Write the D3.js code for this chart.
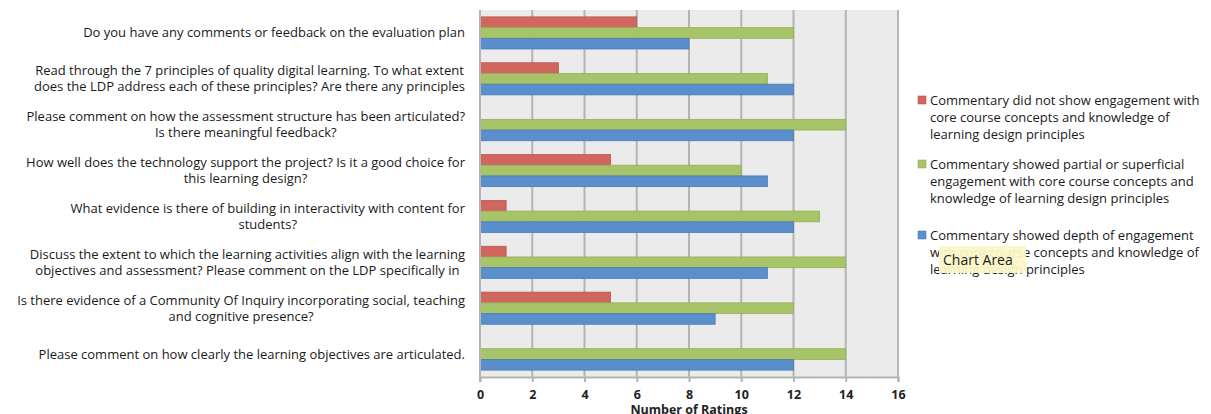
<!DOCTYPE html>
<html>
<head>
<meta charset="utf-8">
<script src="https://cdn.jsdelivr.net/npm/d3@7"></script>
<style>
  body { margin: 0; background: #fff; }
  text { font-family: "Open Sans", sans-serif; }
</style>
</head>
<body>
<div id="chart"></div>
<script>
var width = 1211;
var height = 414;

// questions, top to bottom, each one as the wrapped lines shown
var questions = [
  ["Do you have any comments or feedback on the evaluation plan"],
  ["Read through the 7 principles of quality digital learning. To what extent", "does the LDP address each of these principles? Are there any principles"],
  ["Please comment on how the assessment structure has been articulated?", "Is there meaningful feedback?"],
  ["How well does the technology support the project? Is it a good choice for", "this learning design?"],
  ["What evidence is there of building in interactivity with content for", "students?"],
  ["Discuss the extent to which the learning activities align with the learning", "objectives and assessment? Please comment on the LDP specifically in"],
  ["Is there evidence of a Community Of Inquiry incorporating social, teaching", "and cognitive presence?"],
  ["Please comment on how clearly the learning objectives are articulated."]
];

var noEngagement      = [6, 3, 0, 5, 1, 1, 5, 0];
var partialEngagement = [12, 11, 14, 10, 13, 14, 12, 14];
var depthEngagement   = [8, 12, 12, 11, 12, 11, 9, 12];

var seriesNames = [
  ["Commentary did not show engagement with", "core course concepts and knowledge of", "learning design principles"],
  ["Commentary showed partial or superficial", "engagement with core course concepts and", "knowledge of learning design principles"],
  ["Commentary showed depth of engagement", "with core course concepts and knowledge of", "learning design principles"]
];
var xTicks = [0, 2, 4, 6, 8, 10, 12, 14, 16];

var colors = ['#d0665e', '#a7c468', '#5b8fcb'];
var strokes = ['#b85850', '#95b058', '#4a7bb5'];
var series = [noEngagement, partialEngagement, depthEngagement];

var plotLeft = 480, plotRight = 898, plotTop = 10, plotBottom = 377;

var svg = d3.select('#chart').append('svg')
    .attr('width', width)
    .attr('height', height);

var x = d3.scaleLinear().domain([0, 16]).range([plotLeft, plotRight]);

var y = d3.scaleBand()
    .domain(d3.range(questions.length))
    .range([plotTop, plotBottom])
    .paddingInner(0.3)
    .paddingOuter(0.15);

var yInner = d3.scaleBand().domain([0, 1, 2]).range([0, y.bandwidth()]);

// plot background
svg.append('rect')
    .attr('x', plotLeft).attr('y', plotTop)
    .attr('width', plotRight - plotLeft).attr('height', plotBottom - plotTop)
    .attr('fill', '#ebebeb');

// gridlines
svg.selectAll('.grid')
    .data(xTicks)
    .enter()
    .append('line')
    .attr('x1', function(d){ return x(d); })
    .attr('x2', function(d){ return x(d); })
    .attr('y1', plotTop).attr('y2', plotBottom)
    .attr('stroke', '#b4b4b4')
    .attr('stroke-width', 2);

// bars
var groups = svg.selectAll('.group')
    .data(questions)
    .enter()
    .append('g')
    .attr('transform', function(d, i){ return 'translate(0,' + y(i) + ')'; });

groups.selectAll('rect')
    .data(function(d, i){ return series.map(function(s, k){ return {k: k, v: s[i]}; }); })
    .enter()
    .append('rect')
    .attr('x', x(0))
    .attr('y', function(d){ return yInner(d.k); })
    .attr('width', function(d){ return x(d.v) - x(0); })
    .attr('height', yInner.bandwidth())
    .attr('fill', function(d){ return colors[d.k]; })
    .attr('stroke', function(d){ return d.v > 0 ? strokes[d.k] : 'none'; })
    .attr('stroke-width', 0.8);

// x axis
var xAxis = d3.axisBottom(x).tickValues(xTicks).tickSize(5).tickPadding(8);
var ax = svg.append('g')
    .attr('transform', 'translate(0,' + plotBottom + ')')
    .call(xAxis);
ax.select('.domain').attr('stroke', '#b4b4b4').attr('stroke-width', 2);
ax.selectAll('.tick line').attr('stroke', '#b4b4b4').attr('stroke-width', 2);
ax.selectAll('.tick text')
    .attr('font-family', 'Open Sans, sans-serif')
    .attr('font-size', 12.5)
    .attr('font-weight', 'bold')
    .attr('fill', '#222');

// y axis line
svg.append('line')
    .attr('x1', plotLeft).attr('x2', plotLeft)
    .attr('y1', plotTop).attr('y2', plotBottom + 5)
    .attr('stroke', '#b4b4b4').attr('stroke-width', 2);

svg.append('text')
    .attr('x', 689).attr('y', 414)
    .attr('text-anchor', 'middle')
    .attr('font-size', 12.5)
    .attr('font-weight', 'bold')
    .attr('fill', '#222')
    .text('Number of Ratings');

// category labels: block right-aligned, lines centred inside it
var labelRight = 465, lineH = 16;
questions.forEach(function(lines, i){
    var cy = y(i) + y.bandwidth() / 2;
    var g = svg.append('g');
    var texts = lines.map(function(t, j){
        return g.append('text')
            .attr('y', cy + (j - (lines.length - 1) / 2) * lineH + 4.5)
            .attr('font-size', 13)
            .attr('fill', '#1a1a1a')
            .attr('text-anchor', 'middle')
            .text(t);
    });
    var w = d3.max(texts, function(t){ return t.node().getComputedTextLength(); });
    texts.forEach(function(t){ t.attr('x', labelRight - w / 2); });
});

// legend
var legendX = 918, legendY = [103, 167, 238], legendLineH = 17;
seriesNames.forEach(function(lines, k){
    svg.append('rect')
        .attr('x', legendX).attr('y', legendY[k] - 7)
        .attr('width', 8).attr('height', 8)
        .attr('fill', colors[k])
        .attr('stroke', strokes[k]).attr('stroke-width', 0.6);
    lines.forEach(function(t, j){
        svg.append('text')
            .attr('x', legendX + 12)
            .attr('y', legendY[k] + j * legendLineH + 1.5)
            .attr('font-size', 13)
            .attr('fill', '#1a1a1a')
            .text(t);
    });
});

// "Chart Area" hover tip
svg.append('rect')
    .attr('x', 939).attr('y', 246)
    .attr('width', 87).attr('height', 27)
    .attr('fill', '#fbf7c8')
    .attr('opacity', 0.95);
svg.append('text')
    .attr('x', 943).attr('y', 265)
    .attr('font-size', 14)
    .attr('fill', '#222')
    .text('Chart Area');
</script>
</body>
</html>
